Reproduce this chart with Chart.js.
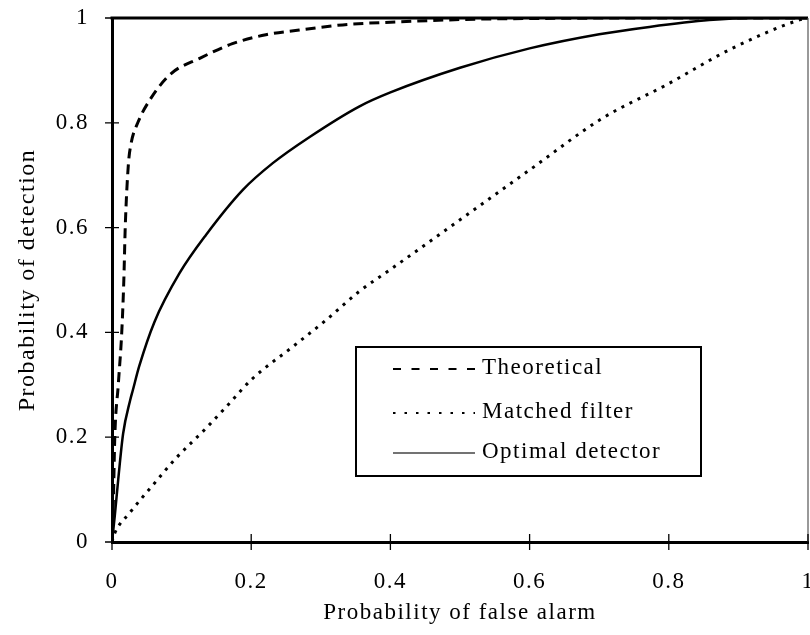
<!DOCTYPE html>
<html>
<head>
<meta charset="utf-8">
<title>ROC curves</title>
<script src="https://cdn.jsdelivr.net/npm/chart.js@4.4.1/dist/chart.umd.min.js"></script>
<style>
  html, body { margin: 0; padding: 0; background: #fff; }
  canvas { display: block; }
</style>
</head>
<body>
<canvas id="roc" width="810" height="635"></canvas>
<script>
const seriesLabels = ["Theoretical", "Matched filter", "Optimal detector"];

// probability of false alarm / probability of detection pairs
const theoreticalPfa = [0, 0.002, 0.004, 0.009, 0.014, 0.017, 0.019, 0.0235, 0.0275, 0.037, 0.056, 0.085, 0.126, 0.173, 0.221, 0.269, 0.317, 0.341, 0.4, 0.5, 0.6, 0.8, 1];
const theoreticalPd  = [0, 0.08, 0.2, 0.3, 0.4, 0.5, 0.6, 0.72, 0.761, 0.8, 0.847, 0.894, 0.923, 0.951, 0.968, 0.977, 0.985, 0.988, 0.992, 0.997, 0.999, 1, 1];

const matchedPfa = [0, 0.004, 0.025, 0.059, 0.092, 0.135, 0.169, 0.202, 0.26, 0.308, 0.355, 0.4, 0.5, 0.6, 0.705, 0.796, 0.891, 0.987, 1];
const matchedPd  = [0, 0.017, 0.055, 0.109, 0.16, 0.217, 0.265, 0.312, 0.373, 0.424, 0.478, 0.52, 0.615, 0.71, 0.809, 0.872, 0.942, 0.996, 1];

const optimalPfa = [0, 0.004, 0.009, 0.016, 0.026, 0.03, 0.039, 0.061, 0.097, 0.135, 0.188, 0.231, 0.284, 0.355, 0.4, 0.5, 0.6, 0.7, 0.772, 0.858, 0.92, 1];
const optimalPd  = [0, 0.05, 0.12, 0.207, 0.27, 0.29, 0.335, 0.42, 0.513, 0.586, 0.672, 0.723, 0.773, 0.831, 0.858, 0.905, 0.942, 0.969, 0.983, 0.996, 1, 1];

const xTickLabels = ["0", "0.2", "0.4", "0.6", "0.8", "1"];
const yTickLabels = ["0", "0.2", "0.4", "0.6", "0.8", "1"];
const xTitle = "Probability of false alarm";
const yTitle = "Probability of detection";

const serif = "'Liberation Serif', 'Times New Roman', serif";

function toPoints(xs, ys) {
  return xs.map((x, i) => ({ x: x, y: ys[i] }));
}

// the typeset labels are a little spread out
const spacing = {
  id: "spacing",
  beforeLayout(chart) { chart.ctx.letterSpacing = "1.5px"; },
  beforeDraw(chart) { chart.ctx.letterSpacing = "1.5px"; },
};

// top and right frame, plus tick marks that cross the axes
const frame = {
  id: "frame",
  afterDatasetsDraw(chart) {
    const { ctx, chartArea: a, scales } = chart;
    ctx.save();
    ctx.strokeStyle = "#000";
    ctx.lineWidth = 3;
    ctx.beginPath();
    ctx.moveTo(a.left - 1.5, a.top);
    ctx.lineTo(a.right, a.top);
    ctx.stroke();

    ctx.strokeStyle = "#555";
    ctx.lineWidth = 1.2;
    ctx.beginPath();
    ctx.moveTo(a.right, a.top);
    ctx.lineTo(a.right, a.bottom);
    ctx.stroke();

    ctx.strokeStyle = "#000";
    ctx.lineWidth = 1.3;
    ctx.beginPath();
    scales.y.ticks.forEach(t => {
      const y = scales.y.getPixelForValue(t.value);
      ctx.moveTo(a.left - 7, y);
      ctx.lineTo(a.left + 7, y);
    });
    scales.x.ticks.forEach(t => {
      const x = scales.x.getPixelForValue(t.value);
      ctx.moveTo(x, a.bottom - 8);
      ctx.lineTo(x, a.bottom + 8);
    });
    ctx.stroke();
    ctx.restore();
  },
};

const legendSamples = [
  { dash: [8, 10.5], width: 2, color: "#000" },
  { dash: [2.5, 9], width: 2, color: "#000" },
  { dash: [], width: 1.5, color: "#444" },
];

// boxed legend sitting inside the plot
const boxLegend = {
  id: "boxLegend",
  afterDraw(chart) {
    const ctx = chart.ctx;
    const box = { left: 356, top: 347, width: 345, height: 129 };
    const rows = [368, 412, 452];
    ctx.save();
    ctx.fillStyle = "#fff";
    ctx.fillRect(box.left, box.top, box.width, box.height);
    ctx.strokeStyle = "#000";
    ctx.lineWidth = 2;
    ctx.strokeRect(box.left, box.top, box.width, box.height);

    chart.data.datasets.forEach((ds, i) => {
      const s = legendSamples[i];
      ctx.beginPath();
      ctx.setLineDash(s.dash);
      ctx.strokeStyle = s.color;
      ctx.lineWidth = s.width;
      ctx.moveTo(393, rows[i] + 1);
      ctx.lineTo(475, rows[i] + 1);
      ctx.stroke();
      ctx.setLineDash([]);
      ctx.fillStyle = "#000";
      ctx.font = "23px " + serif;
      ctx.textAlign = "left";
      ctx.textBaseline = "middle";
      ctx.fillText(ds.label, 482, rows[i]);
    });
    ctx.restore();
  },
};

new Chart(document.getElementById("roc"), {
  type: "line",
  data: {
    datasets: [
      {
        label: seriesLabels[0],
        data: toPoints(theoreticalPfa, theoreticalPd),
        borderColor: "#000",
        borderWidth: 3,
        borderDash: [10, 6],
        pointRadius: 0,
        cubicInterpolationMode: "monotone",
        fill: false,
      },
      {
        label: seriesLabels[1],
        data: toPoints(matchedPfa, matchedPd),
        borderColor: "#000",
        borderWidth: 3,
        borderDash: [3, 6],
        pointRadius: 0,
        cubicInterpolationMode: "monotone",
        fill: false,
      },
      {
        label: seriesLabels[2],
        data: toPoints(optimalPfa, optimalPd),
        borderColor: "#000",
        borderWidth: 2.5,
        pointRadius: 0,
        cubicInterpolationMode: "monotone",
        fill: false,
      },
    ],
  },
  options: {
    responsive: false,
    animation: false,
    devicePixelRatio: 1,
    layout: { padding: { top: 18, right: 2, bottom: 0, left: 0 } },
    plugins: {
      legend: { display: false },
      tooltip: { enabled: false },
    },
    scales: {
      x: {
        type: "linear",
        min: 0,
        max: 1,
        grid: { display: false, drawTicks: false, tickLength: 0 },
        border: { display: true, color: "#000", width: 3 },
        ticks: {
          stepSize: 0.2,
          padding: 26,
          color: "#000",
          maxRotation: 0,
          autoSkip: false,
          font: { family: serif, size: 23 },
          callback: (v, i) => xTickLabels[i],
        },
        title: {
          display: true,
          text: xTitle,
          color: "#000",
          font: { family: serif, size: 23 },
          padding: { top: 0, bottom: 8 },
        },
        afterFit(scale) {
          scale.height = 93;
          scale.paddingLeft = 0;
          scale.paddingRight = 0;
        },
      },
      y: {
        type: "linear",
        min: 0,
        max: 1,
        grid: { display: false, drawTicks: false, tickLength: 0 },
        border: { display: true, color: "#000", width: 3 },
        ticks: {
          stepSize: 0.2,
          padding: 23,
          color: "#000",
          font: { family: serif, size: 23 },
          callback: (v, i) => yTickLabels[i],
        },
        title: {
          display: true,
          text: yTitle,
          color: "#000",
          font: { family: serif, size: 24 },
          padding: { top: 13, bottom: 0 },
        },
        afterFit(scale) {
          scale.width = 112;
          scale.paddingTop = 0;
          scale.paddingBottom = 0;
        },
      },
    },
  },
  plugins: [spacing, frame, boxLegend],
});
</script>
</body>
</html>
